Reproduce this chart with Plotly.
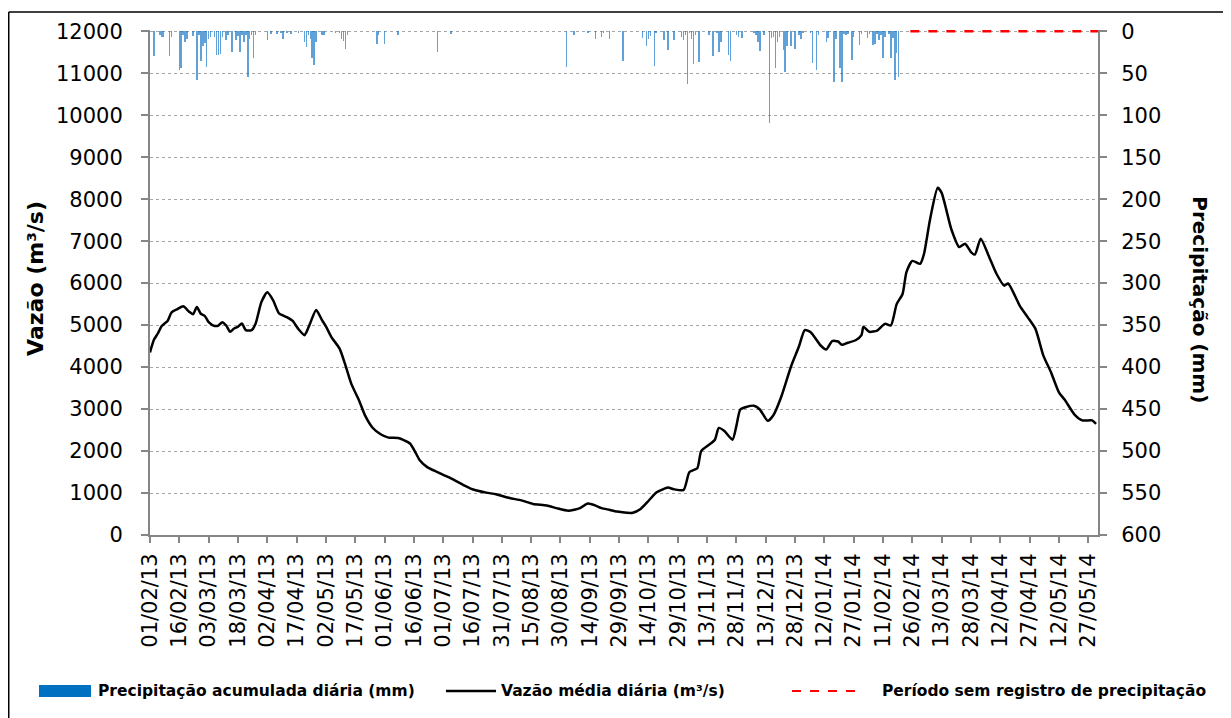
import plotly.graph_objects as go

# vazão média diária (m³/s)
datas_vazao = [
    "2013-02-01", "2013-02-03", "2013-02-05", "2013-02-07", "2013-02-10", "2013-02-12",
    "2013-02-15", "2013-02-18", "2013-02-21", "2013-02-23", "2013-02-25", "2013-02-27",
    "2013-03-01", "2013-03-03", "2013-03-06", "2013-03-08", "2013-03-10", "2013-03-12",
    "2013-03-14", "2013-03-16", "2013-03-18", "2013-03-20", "2013-03-22", "2013-03-25",
    "2013-03-27", "2013-03-30", "2013-04-02", "2013-04-05", "2013-04-08", "2013-04-12",
    "2013-04-15", "2013-04-18", "2013-04-21", "2013-04-22", "2013-04-24", "2013-04-27",
    "2013-04-30", "2013-05-02", "2013-05-05", "2013-05-09", "2013-05-12", "2013-05-15",
    "2013-05-19", "2013-05-22", "2013-05-26", "2013-05-30", "2013-06-03", "2013-06-08",
    "2013-06-14", "2013-06-17", "2013-06-19", "2013-06-23", "2013-06-28", "2013-07-04",
    "2013-07-11", "2013-07-16", "2013-07-23", "2013-07-28", "2013-08-04", "2013-08-10",
    "2013-08-16", "2013-08-23", "2013-08-28", "2013-09-03", "2013-09-09", "2013-09-13",
    "2013-09-17", "2013-09-20", "2013-09-24", "2013-09-28", "2013-10-03", "2013-10-06",
    "2013-10-10", "2013-10-14", "2013-10-18", "2013-10-21", "2013-10-24", "2013-10-27",
    "2013-11-01", "2013-11-04", "2013-11-08", "2013-11-10", "2013-11-14", "2013-11-17",
    "2013-11-19", "2013-11-22", "2013-11-26", "2013-11-28", "2013-11-30", "2013-12-03",
    "2013-12-07", "2013-12-10", "2013-12-14", "2013-12-17", "2013-12-21", "2013-12-26",
    "2013-12-30", "2014-01-02", "2014-01-05", "2014-01-10", "2014-01-13", "2014-01-16",
    "2014-01-19", "2014-01-21", "2014-01-24", "2014-01-28", "2014-01-31", "2014-02-01",
    "2014-02-04", "2014-02-08", "2014-02-12", "2014-02-15", "2014-02-18", "2014-02-21",
    "2014-02-23", "2014-02-26", "2014-03-02", "2014-03-04", "2014-03-07", "2014-03-11",
    "2014-03-13", "2014-03-18", "2014-03-22", "2014-03-25", "2014-03-28", "2014-03-30",
    "2014-04-02", "2014-04-06", "2014-04-10", "2014-04-14", "2014-04-16", "2014-04-22",
    "2014-04-26", "2014-04-30", "2014-05-04", "2014-05-08", "2014-05-12", "2014-05-15",
    "2014-05-20", "2014-05-24", "2014-05-29", "2014-05-31",
]
vazao = [
    4350, 4650, 4800, 4980, 5100, 5300,
    5380, 5450, 5320, 5260, 5430, 5270,
    5220, 5070, 4980, 4990, 5070, 4990,
    4840, 4920, 4960, 5040, 4880, 4880,
    5030, 5550, 5780, 5590, 5280, 5190,
    5100, 4900, 4760, 4830, 5050, 5360,
    5120, 4970, 4700, 4440, 4040, 3600,
    3200, 2850, 2550, 2400, 2320, 2310,
    2180, 1950, 1780, 1610, 1500, 1370,
    1200, 1090, 1010, 970, 880, 825,
    740, 705, 640, 580, 640, 750,
    700, 640, 600, 560, 530, 530,
    620, 810, 1010, 1080, 1130, 1090,
    1075, 1500, 1590, 2000, 2150, 2270,
    2550, 2470, 2270, 2600, 2990, 3050,
    3080, 2990, 2720, 2860, 3300, 4020,
    4490, 4880, 4830, 4520, 4420, 4620,
    4610, 4530, 4580, 4640, 4760, 4960,
    4840, 4870, 5030, 4990, 5500, 5740,
    6260, 6530, 6460, 6700, 7500, 8270,
    8150, 7280, 6860, 6940, 6740, 6680,
    7060, 6660, 6230, 5940, 5990, 5460,
    5190, 4910, 4280, 3870, 3400, 3220,
    2870, 2730, 2730, 2650,
]

# precipitação acumulada diária (mm), dias com chuva
datas_chuva = [
    "2013-02-03", "2013-02-06", "2013-02-07", "2013-02-08", "2013-02-11", "2013-02-12",
    "2013-02-16", "2013-02-17", "2013-02-18", "2013-02-19", "2013-02-20", "2013-02-23",
    "2013-02-25", "2013-02-26", "2013-02-27", "2013-02-28", "2013-03-01", "2013-03-02",
    "2013-03-03", "2013-03-04", "2013-03-06", "2013-03-07", "2013-03-08", "2013-03-09",
    "2013-03-10", "2013-03-12", "2013-03-13", "2013-03-15", "2013-03-17", "2013-03-18",
    "2013-03-19", "2013-03-20", "2013-03-21", "2013-03-22", "2013-03-23", "2013-03-24",
    "2013-03-25", "2013-03-26", "2013-03-27", "2013-04-02", "2013-04-04", "2013-04-07",
    "2013-04-09", "2013-04-10", "2013-04-12", "2013-04-14", "2013-04-18", "2013-04-21",
    "2013-04-22", "2013-04-23", "2013-04-24", "2013-04-25", "2013-04-26", "2013-04-27",
    "2013-04-30", "2013-05-01", "2013-05-07", "2013-05-09", "2013-05-10", "2013-05-11",
    "2013-05-12", "2013-05-13", "2013-05-28", "2013-05-29", "2013-06-01", "2013-06-08",
    "2013-06-28", "2013-07-05", "2013-09-02", "2013-09-06", "2013-09-13", "2013-09-17",
    "2013-09-20", "2013-09-21", "2013-09-24", "2013-10-01", "2013-10-11", "2013-10-13",
    "2013-10-14", "2013-10-15", "2013-10-17", "2013-10-18", "2013-10-22", "2013-10-24",
    "2013-10-27", "2013-10-31", "2013-11-01", "2013-11-02", "2013-11-03", "2013-11-04",
    "2013-11-05", "2013-11-06", "2013-11-07", "2013-11-09", "2013-11-14", "2013-11-16",
    "2013-11-18", "2013-11-19", "2013-11-20", "2013-11-24", "2013-11-25", "2013-11-28",
    "2013-11-29", "2013-12-01", "2013-12-07", "2013-12-08", "2013-12-09", "2013-12-10",
    "2013-12-12", "2013-12-15", "2013-12-16", "2013-12-17", "2013-12-18", "2013-12-19",
    "2013-12-20", "2013-12-22", "2013-12-23", "2013-12-24", "2013-12-26", "2013-12-28",
    "2013-12-30", "2013-12-31", "2014-01-01", "2014-01-05", "2014-01-06", "2014-01-08",
    "2014-01-09", "2014-01-13", "2014-01-14", "2014-01-17", "2014-01-18", "2014-01-20",
    "2014-01-21", "2014-01-22", "2014-01-23", "2014-01-24", "2014-01-26", "2014-01-27",
    "2014-01-30", "2014-01-31", "2014-02-03", "2014-02-04", "2014-02-06", "2014-02-07",
    "2014-02-08", "2014-02-09", "2014-02-10", "2014-02-11", "2014-02-12", "2014-02-14",
    "2014-02-15", "2014-02-16", "2014-02-17", "2014-02-18", "2014-02-19",
]
chuva = [
    30, 5, 7, 7, 29, 7,
    46, 44, 4, 13, 9, 6,
    58, 4, 36, 18, 14, 42,
    9, 7, 7, 28, 28, 27,
    7, 10, 4, 25, 10, 6,
    25, 4, 13, 4, 54, 9,
    5, 32, 5, 10, 3, 3,
    2, 9, 2, 3, 2, 13,
    19, 4, 9, 32, 40, 13,
    4, 5, 2, 2, 9, 12,
    21, 5, 15, 4, 15, 4,
    25, 3, 42, 4, 2, 9,
    7, 2, 9, 35, 8, 18,
    9, 6, 41, 2, 10, 22,
    11, 7, 10, 4, 63, 2,
    9, 39, 4, 37, 5, 29,
    2, 25, 13, 28, 35, 4,
    7, 8, 2, 4, 13, 24,
    4, 109, 8, 7, 44, 13,
    7, 22, 49, 17, 17, 21,
    4, 9, 2, 2, 38, 46,
    4, 13, 8, 60, 9, 44,
    61, 3, 4, 3, 34, 7,
    16, 3, 8, 3, 16, 15,
    3, 10, 4, 32, 7, 3,
    32, 8, 58, 26, 55,
]

# período sem registro de precipitação
datas_sem_registro = ["2014-02-25", "2014-06-01"]
sem_registro = [0, 0]

DIA_MS = 86400000
FONTE = "DejaVu Sans"
CINZA = "#868686"

fig = go.Figure()

fig.add_trace(go.Scatter(
    x=datas_vazao, y=vazao, mode="lines",
    line=dict(color="black", width=2.5, shape="spline", smoothing=0.6),
    name="Vazão média diária (m³/s)", yaxis="y",
))
fig.add_trace(go.Bar(
    x=datas_chuva, y=chuva, base=0, width=0.8 * DIA_MS,
    marker=dict(color="rgba(20,118,198,0.68)", line=dict(width=0)),
    name="Precipitação acumulada diária (mm)", yaxis="y2",
))
fig.add_trace(go.Scatter(
    x=datas_sem_registro, y=sem_registro, mode="lines",
    line=dict(color="#FF0000", width=2.5, dash="dash"),
    name="Período sem registro de precipitação", yaxis="y2",
))

# a página tem margem de 8 px no body: descontada nas margens da figura
fig.update_layout(
    width=1223, height=710,
    margin=dict(l=142, r=133, t=22, b=183, autoexpand=False),
    paper_bgcolor="white", plot_bgcolor="white",
    showlegend=False, bargap=0,
    font=dict(family=FONTE, size=21, color="black"),
    xaxis=dict(
        type="date", range=["2013-02-01", "2014-06-01"],
        tick0="2013-02-01", dtick=15 * DIA_MS, tickformat="%d/%m/%y",
        tickangle=-90, ticks="outside", ticklen=6, tickcolor=CINZA, tickwidth=1.5,
        showline=True, linecolor=CINZA, linewidth=2, showgrid=False,
        ticklabelstandoff=2, tickfont=dict(size=21),
    ),
    yaxis=dict(
        range=[0, 12030], tick0=0, dtick=1000, tickformat="d",
        ticks="outside", ticklen=7, tickcolor=CINZA, tickwidth=1.5,
        showline=True, linecolor=CINZA, linewidth=2,
        showgrid=True, gridcolor="#A6A6A6", griddash="dot", gridwidth=1,
        zeroline=False, ticklabelstandoff=14, tickfont=dict(size=21),
    ),
    yaxis2=dict(
        overlaying="y", side="right", range=[600, -1.5], tick0=0, dtick=50,
        tickformat="d",
        ticks="outside", ticklen=7, tickcolor=CINZA, tickwidth=1.5,
        showline=True, linecolor=CINZA, linewidth=2, showgrid=False,
        zeroline=False, ticklabelstandoff=10, tickfont=dict(size=21),
    ),
)

# títulos dos eixos
fig.add_annotation(
    xref="paper", yref="paper", x=-0.1203, y=0.509, xanchor="center", yanchor="middle",
    text="<b>Vazão (m³/s)</b>", textangle=-90, showarrow=False, font=dict(size=22),
)
fig.add_annotation(
    xref="paper", yref="paper", x=1.1075, y=0.465, xanchor="center", yanchor="middle",
    text="<b>Precipitação (mm)</b>", textangle=90, showarrow=False, font=dict(size=20),
)

# moldura externa
fig.add_shape(type="line", xref="paper", yref="paper", x0=-0.1490, x1=1.15,
              y0=1.0356, y1=1.0356, line=dict(color="black", width=1.5))
fig.add_shape(type="line", xref="paper", yref="paper", x0=-0.1490, x1=-0.1490,
              y0=1.0356, y1=-0.37, line=dict(color="black", width=1.5))

# legenda
ly = -0.3089
fig.add_shape(type="rect", xref="paper", yref="paper", x0=-0.1171, x1=-0.0622,
              y0=-0.3208, y1=-0.2970, fillcolor="#0070C0", line=dict(width=0))
fig.add_annotation(xref="paper", yref="paper", x=-0.0570, y=ly, xanchor="left",
                   yanchor="middle", text="<b>Precipitação acumulada diária (mm)</b>",
                   showarrow=False, font=dict(size=15.5))
fig.add_shape(type="line", xref="paper", yref="paper", x0=0.3122, x1=0.3650,
              y0=ly, y1=ly, line=dict(color="black", width=2.5))
fig.add_annotation(xref="paper", yref="paper", x=0.3682, y=ly, xanchor="left",
                   yanchor="middle", text="<b>Vazão média diária (m³/s)</b>",
                   showarrow=False, font=dict(size=15.5))
fig.add_shape(type="line", xref="paper", yref="paper", x0=0.6772, x1=0.7447,
              y0=ly, y1=ly, line=dict(color="#FF0000", width=2, dash="dash"))
fig.add_annotation(xref="paper", yref="paper", x=0.7700, y=ly, xanchor="left",
                   yanchor="middle", text="<b>Período sem registro de precipitação</b>",
                   showarrow=False, font=dict(size=15.5))

fig.write_html("out.html")
